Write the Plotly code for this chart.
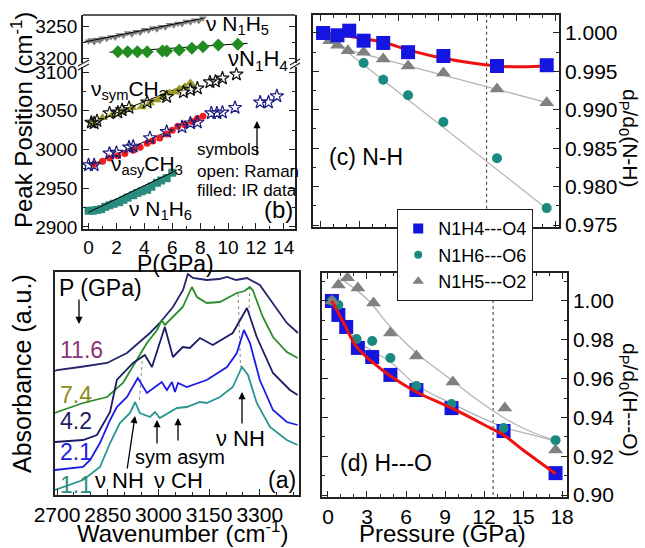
import plotly.graph_objects as go

W, H = 645, 548
FONT = "Arial, 'Liberation Sans', sans-serif"


def px(x):
    return x / W


def py(y):
    return 1 - y / H


# ---------------- Panel (b): peak positions vs pressure ----------------
b_n1h5_p = [0.0, 0.2, 0.4, 0.6, 0.8, 1.0, 1.3, 1.6, 1.9, 2.2, 2.5, 2.8, 3.1, 3.4, 3.7,
            4.0, 4.3, 4.6, 4.9, 5.2, 5.5, 5.8, 6.1, 6.4, 6.7, 7.0, 7.3, 7.6, 7.9, 8.2]
b_n1h5_v = [3226, 3228, 3225, 3229, 3227, 3231, 3230, 3233, 3232, 3236, 3235, 3239, 3237, 3241, 3240,
            3244, 3243, 3247, 3245, 3249, 3248, 3252, 3251, 3254, 3253, 3257, 3256, 3259, 3258, 3262]
b_n1h5_fit_p = [-0.3, 8.2]
b_n1h5_fit_v = [3225, 3262]

b_n1h4_p = [2.1, 2.8, 3.5, 4.2, 5.3, 5.6, 6.5, 7.4, 8.2, 9.3, 10.7]
b_n1h4_v = [3209.8, 3209.8, 3209.8, 3209.8, 3210.9, 3210.9, 3212.5, 3215.2, 3217.7, 3220.3, 3221.4]
b_n1h4_fit_p = [1.5, 11.4]
b_n1h4_fit_v = [3209, 3223]

b_sym_ir_p = [0.3, 1.0, 1.7, 2.4, 3.1, 3.8, 4.4, 4.9, 5.3, 5.8, 6.2, 6.5, 6.9, 7.3]
b_sym_ir_v = [3034, 3041, 3045, 3048, 3054, 3055, 3060, 3064, 3068, 3073, 3074, 3078, 3081, 3086]
b_sym_ram_p = [0.2, 0.4, 0.6, 1.5, 2.1, 2.4, 2.9, 4.2, 5.6, 6.8, 7.3, 7.8, 8.7, 9.1, 9.6, 10.6]
b_sym_ram_v = [3035, 3034, 3037, 3047, 3048, 3051, 3054, 3061, 3068, 3074, 3077, 3079, 3087, 3088, 3092, 3097]
b_sym_fit_p = [0.0, 7.5]
b_sym_fit_v = [3033, 3087]

b_asy_ir_p = [0.4, 1.0, 1.5, 2.1, 2.6, 3.2, 3.7, 4.2, 4.6, 5.1, 5.6, 6.0, 6.4, 6.9, 7.4, 7.8, 8.2]
b_asy_ir_v = [2981, 2985, 2989, 2992, 2995, 2999, 3003, 3008, 3011, 3015, 3020, 3025, 3030, 3032, 3036, 3040, 3043]
b_asy_ram_p = [0.0, 0.4, 1.5, 2.0, 2.9, 3.2, 4.4, 5.6, 6.7, 7.3, 7.8, 8.8, 9.2, 9.6, 10.5, 12.3, 12.9, 13.5]
b_asy_ram_v = [2980, 2980, 2995, 2996, 3003, 3004, 3015, 3023, 3029, 3034, 3035, 3047, 3047, 3048, 3054, 3061, 3061, 3069]
b_asy_fit_p = [0.2, 8.3]
b_asy_fit_v = [2980, 3044]

b_n1h6_p = [0.0, 0.3, 0.6, 0.9, 1.2, 1.5, 1.8, 2.2, 2.5, 2.8, 3.2, 3.5, 3.8, 4.2, 4.5, 4.9, 5.2, 5.6, 6.0]
b_n1h6_v = [2921, 2921, 2922, 2923, 2926, 2928, 2930, 2932, 2935, 2938, 2941, 2944, 2946, 2948, 2952, 2957, 2960, 2963, 2970]
b_n1h6_fit_p = [0.0, 6.3]
b_n1h6_fit_v = [2919, 2973]

# ---------------- Panel (c): N-H bond length ratio ----------------
c_n1h4_p = [0.2, 1.3, 2.2, 3.3, 4.8, 6.7, 9.4, 13.5, 17.3]
c_n1h4_v = [1.0000, 0.9997, 1.0003, 0.9990, 0.9987, 0.9975, 0.9970, 0.9957, 0.9958]
c_n1h6_p = [0.2, 3.3, 4.8, 6.7, 9.4, 13.5, 17.3]
c_n1h6_v = [1.0000, 0.9961, 0.9939, 0.9919, 0.9884, 0.9837, 0.9772]
c_n1h5_p = [0.2, 0.7, 1.3, 2.1, 3.3, 4.8, 6.7, 9.4, 13.5, 17.3]
c_n1h5_v = [1.0000, 0.9990, 0.9984, 0.9977, 0.9975, 0.9966, 0.9957, 0.9948, 0.9927, 0.9909]
c_red_fit_p = [0.2, 2.1, 4.8, 6.7, 9.4, 13.5, 15.5, 17.4]
c_red_fit_v = [1.0000, 0.9996, 0.9988, 0.9978, 0.9967, 0.9957, 0.9956, 0.9957]
c_n1h5_fit_p = [0.2, 2.1, 17.4]
c_n1h5_fit_v = [1.0000, 0.9978, 0.9909]
c_n1h6_fit_p = [0.2, 17.4]
c_n1h6_fit_v = [1.0000, 0.9770]

# ---------------- Panel (d): H---O distance ratio ----------------
d_n1h4_p = [0.3, 0.8, 1.4, 2.3, 3.4, 4.8, 6.8, 9.5, 13.5, 17.5]
d_n1h4_v = [1.000, 0.9928, 0.9866, 0.9758, 0.9711, 0.9619, 0.9541, 0.9448, 0.9330, 0.9113]
d_n1h6_p = [0.3, 0.8, 2.2, 3.4, 4.8, 6.8, 9.5, 13.5, 17.5]
d_n1h6_v = [1.000, 0.9979, 0.9804, 0.9794, 0.9706, 0.9562, 0.9469, 0.9345, 0.9283]
d_n1h5_p = [0.3, 0.8, 1.5, 2.3, 3.5, 4.8, 6.8, 9.6, 13.6, 17.5]
d_n1h5_v = [1.000, 1.0082, 1.0119, 1.0067, 0.9990, 0.9835, 0.9716, 0.9582, 0.9448, 0.9232]
d_red_fit_p = [0.3, 1.2, 2.2, 3.4, 4.8, 6.8, 9.6, 12.5, 13.5, 15.0, 17.5]
d_red_fit_v = [1.0, 0.9887, 0.9763, 0.9686, 0.9613, 0.9531, 0.9445, 0.9345, 0.9310, 0.9232, 0.9110]
d_n1h5_fit_p = [0.9, 3.0, 4.8, 6.8, 9.6, 11.5, 13.8, 15.5, 17.5]
d_n1h5_fit_v = [1.0119, 1.0010, 0.9866, 0.9732, 0.9588, 0.9490, 0.9387, 0.9330, 0.9280]
d_n1h6_fit_p = [0.3, 2.2, 4.8, 6.8, 9.6, 13.5, 15.5, 17.5]
d_n1h6_fit_v = [1.0, 0.9800, 0.9686, 0.9567, 0.9469, 0.9350, 0.9314, 0.9278]

transition_p = 12.7

# ---------------- Panel (a): IR spectra ----------------
w_116 = [2694, 2700, 2768, 2848, 2907, 2945, 2975, 3004, 3043, 3073, 3087, 3102, 3143, 3180, 3203,
         3230, 3262, 3300, 3339, 3380, 3413]
a_116 = [124, 125, 128, 132, 142, 153, 162, 172, 188, 205, 221, 217, 215, 216, 218, 215, 217, 210, 192, 172, 162]

w_74 = [2694, 2709, 2777, 2848, 2895, 2936, 2966, 2996, 3010, 3019, 3043, 3072, 3099, 3114, 3143, 3182,
        3232, 3255, 3270, 3279, 3309, 3339, 3380, 3412]
a_74 = [82, 84, 92, 98, 112, 135, 152, 165, 175, 170, 178, 188, 208, 198, 192, 193, 202, 204, 208, 205, 178,
        158, 143, 137]

w_42 = [2694, 2738, 2777, 2818, 2836, 2857, 2877, 2925, 2960, 2981, 3019, 3043, 3072, 3093, 3123, 3161,
        3220, 3262, 3291, 3339, 3389, 3412]
a_42 = [53, 54, 55, 60, 70, 83, 115, 132, 140, 128, 168, 138, 148, 147, 157, 150, 162, 187, 158, 122, 105, 100]

w_21 = [2694, 2777, 2798, 2827, 2857, 2877, 2907, 2939, 2966, 2999, 3010, 3025, 3040, 3049, 3058, 3084,
        3143, 3203, 3232, 3253, 3271, 3300, 3339, 3380, 3412]
a_21 = [25, 28, 35, 52, 75, 88, 98, 117, 102, 110, 113, 105, 113, 103, 112, 108, 115, 128, 142, 165, 152,
        115, 85, 73, 70]

w_11 = [2694, 2777, 2827, 2857, 2886, 2916, 2931, 2945, 2975, 2990, 3004, 3034, 3055, 3084, 3123, 3143,
        3182, 3220, 3247, 3265, 3291, 3330, 3380, 3412]
a_11 = [5, 15, 28, 52, 72, 82, 93, 82, 78, 83, 77, 83, 87, 88, 93, 92, 98, 108, 128, 120, 92, 68, 55, 50]

spectra = [
    ("11.6", w_116, a_116, "#23236e"),
    ("7.4", w_74, a_74, "#2b8c2b"),
    ("4.2", w_42, a_42, "#1c1c66"),
    ("2.1", w_21, a_21, "#1c1ce6"),
    ("1.1", w_11, a_11, "#2a9490"),
]
label_colors = {"11.6": "#8a3578", "7.4": "#8c8c1c", "4.2": "#1c1c66", "2.1": "#2020e0", "1.1": "#2a9080"}

guide_lines = [
    ([3236, 3243], [201, 128]),
    ([3270, 3268], [208, 182]),
    ([2953, 2944], [140, 95]),
]

# ---------------- Build figure ----------------
fig = go.Figure()

# legend-only entries (small markers like the reference)
fig.add_trace(go.Scatter(x=[None], y=[None], mode="markers", name="N1H4---O4",
                         marker=dict(symbol="square", color="#1515e0", size=10), xaxis="x3", yaxis="y3"))
fig.add_trace(go.Scatter(x=[None], y=[None], mode="markers", name="N1H6---O6",
                         marker=dict(symbol="circle", color="#1a8a80", size=8), xaxis="x3", yaxis="y3"))
fig.add_trace(go.Scatter(x=[None], y=[None], mode="markers", name="N1H5---O2",
                         marker=dict(symbol="triangle-up", color="#808080", size=10), xaxis="x3", yaxis="y3"))


def line(xs, ys, xa, ya, color="black", width=1, dash=None, shape="linear"):
    fig.add_trace(go.Scatter(x=xs, y=ys, mode="lines", showlegend=False, xaxis=xa, yaxis=ya,
                             line=dict(color=color, width=width, dash=dash, shape=shape), hoverinfo="skip"))


def pts(xs, ys, xa, ya, symbol, color, size, lw=0, lc=None):
    fig.add_trace(go.Scatter(x=xs, y=ys, mode="markers", showlegend=False, xaxis=xa, yaxis=ya,
                             marker=dict(symbol=symbol, color=color, size=size,
                                         line=dict(width=lw, color=lc if lc else color))))


# Panel b (upper part, y2)
pts(b_n1h5_p, b_n1h5_v, "x", "y2", "triangle-down", "#808080", 7)
line(b_n1h5_fit_p, b_n1h5_fit_v, "x", "y2")
line(b_n1h4_fit_p, b_n1h4_fit_v, "x", "y2")
pts(b_n1h4_p, b_n1h4_v, "x", "y2", "diamond", "#228b22", 10)
# Panel b (lower part, y)
line(b_sym_fit_p, b_sym_fit_v, "x", "y")
line(b_asy_fit_p, b_asy_fit_v, "x", "y")
line(b_n1h6_fit_p, b_n1h6_fit_v, "x", "y")
pts(b_sym_ir_p, b_sym_ir_v, "x", "y", "triangle-up", "#9a9a1e", 9)
pts(b_sym_ram_p, b_sym_ram_v, "x", "y", "star-open", "#111111", 10, 1.2, "#111111")
pts(b_asy_ir_p, b_asy_ir_v, "x", "y", "circle", "#ee2020", 7)
pts(b_asy_ram_p, b_asy_ram_v, "x", "y", "star-open", "#1a1a80", 10, 1.2, "#1a1a80")
pts(b_n1h6_p, b_n1h6_v, "x", "y", "square", "#2a8c7c", 8)
line(b_n1h6_fit_p, b_n1h6_fit_v, "x", "y")

# Panel c
line([transition_p, transition_p], [0.9740, 1.0030], "x3", "y3", "#555555", 1.2, "dot")
line(c_n1h5_fit_p, c_n1h5_fit_v, "x3", "y3", "#b4b4b4", 1.3)
line(c_n1h6_fit_p, c_n1h6_fit_v, "x3", "y3", "#b4b4b4", 1.3)
pts(c_n1h5_p, c_n1h5_v, "x3", "y3", "triangle-up", "#808080", 13)
pts(c_n1h6_p, c_n1h6_v, "x3", "y3", "circle", "#1a8a80", 10)
line(c_red_fit_p, c_red_fit_v, "x3", "y3", "#ee1111", 3, shape="spline")
pts(c_n1h4_p, c_n1h4_v, "x3", "y3", "square", "#1515e0", 14)

# Panel d
line([transition_p, transition_p], [0.897, 1.016], "x4", "y4", "#555555", 1.2, "dot")
line(d_n1h5_fit_p, d_n1h5_fit_v, "x4", "y4", "#b4b4b4", 1.3, shape="spline")
line(d_n1h6_fit_p, d_n1h6_fit_v, "x4", "y4", "#b4b4b4", 1.3, shape="spline")
pts(d_n1h4_p, d_n1h4_v, "x4", "y4", "square", "#1515e0", 14)
pts(d_n1h6_p, d_n1h6_v, "x4", "y4", "circle", "#1a8a80", 10)
pts(d_n1h5_p, d_n1h5_v, "x4", "y4", "triangle-up", "#808080", 13)
line(d_red_fit_p, d_red_fit_v, "x4", "y4", "#ee1111", 3, shape="spline")

# Panel a
for gw, ga in guide_lines:
    line(gw, ga, "x5", "y5", "#8a8a8a", 1, "dot")
for name, ws, aa, col in spectra:
    line(ws, aa, "x5", "y5", col, 1.8)

# ---------------- Axes ----------------
AX = dict(showline=True, linecolor="#222222", linewidth=1.5, ticks="inside", tickcolor="#222222",
          ticklen=6, tickwidth=1.3, showgrid=False, zeroline=False, automargin=False,
          tickfont=dict(family=FONT, size=21, color="black"))


def ax(**kw):
    d = dict(AX)
    d.update(kw)
    return d


MINOR = lambda dt: dict(dtick=dt, ticks="inside", ticklen=3, tickcolor="#222222", tickwidth=1.2)

layout_axes = dict(
    xaxis=ax(domain=[px(83), px(295)], anchor="y", range=[-0.4, 14.8], dtick=2, tick0=0,
             minor=MINOR(1), tickfont=dict(family=FONT, size=19, color="black")),
    yaxis=ax(domain=[py(229), py(67)], anchor="x", range=[2897.4, 3106.5], dtick=50, tick0=2900,
             mirror="ticks", minor=MINOR(25), tickfont=dict(family=FONT, size=19, color="black")),
    yaxis2=ax(domain=[py(63), py(15)], anchor="x", range=[3192.2, 3267.2], dtick=50, tick0=3200,
              mirror="ticks", minor=MINOR(25), tickfont=dict(family=FONT, size=19, color="black")),
    xaxis3=ax(domain=[px(313), px(559)], anchor="y3", range=[-0.57, 18.24], dtick=3, tick0=0,
              mirror="ticks", showticklabels=False, minor=MINOR(1)),
    yaxis3=ax(domain=[py(227), py(15)], anchor="x3", side="right", range=[0.97474, 1.00234],
              dtick=0.005, tick0=0.975, tickformat=".3f", mirror="ticks", minor=MINOR(0.0025)),
    xaxis4=ax(domain=[px(322), px(567)], anchor="y4", range=[-0.46, 18.38], dtick=3, tick0=0,
              mirror="ticks", minor=MINOR(1)),
    yaxis4=ax(domain=[py(497), py(273)], anchor="x4", side="right", range=[0.899, 1.0144],
              dtick=0.02, tick0=0.9, tickformat=".2f", mirror="ticks", minor=MINOR(0.01)),
    xaxis5=ax(domain=[px(55), px(299)], anchor="y5", range=[2694, 3416], dtick=150, tick0=2700,
              mirror=True, minor=MINOR(50)),
    yaxis5=ax(domain=[py(495), py(272)], anchor="x5", range=[0, 223], showticklabels=False,
              ticks="", mirror=True),
)

# ---------------- Annotations ----------------
ann = []


def txt(x, y, s, size=21, color="black", xanchor="left", yanchor="middle", angle=0):
    ann.append(dict(x=px(x), y=py(y), xref="paper", yref="paper", text=s, showarrow=False,
                    font=dict(family=FONT, size=size, color=color), xanchor=xanchor,
                    yanchor=yanchor, textangle=angle))


def arrow(x0, y0, x1, y1):
    ann.append(dict(x=px(x1), y=py(y1), xref="paper", yref="paper", ax=x0 - x1, ay=y0 - y1,
                    axref="pixel", ayref="pixel", text="", showarrow=True, arrowhead=2,
                    arrowsize=1.1, arrowwidth=1.3, arrowcolor="black"))


# panel b texts
txt(22, 120, "Peak Position (cm<sup>-1</sup>)", 24, xanchor="center", angle=-90)
txt(175, 264, "P(GPa)", 23, xanchor="center")
txt(204, 25, "ν N<sub>1</sub>H<sub>5</sub>", 21)
txt(226, 60, "νN<sub>1</sub>H<sub>4</sub>", 22)
txt(89, 90, "ν<sub>sym</sub>CH<sub>3</sub>", 21)
txt(109, 165, "ν<sub>asy</sub>CH<sub>3</sub>", 21)
txt(127, 210, "ν N<sub>1</sub>H<sub>6</sub>", 21)
txt(195, 150, "symbols", 17)
txt(195, 172, "open: Raman", 17)
txt(195, 190, "filled: IR data", 17)
txt(278, 210, "(b)", 24, xanchor="center")
arrow(257, 157, 257, 121)

# panel c/d texts
txt(327, 157, "(c) N-H", 23)
txt(338, 463, "(d) H---O", 23)
txt(629, 138, "d<sub>P</sub>/d<sub>0</sub>(N-H)", 21, xanchor="center", angle=90)
txt(629, 400, "d<sub>P</sub>/d<sub>0</sub>(H---O)", 21, xanchor="center", angle=90)
txt(442, 533, "Pressure (GPa)", 24, xanchor="center")

# panel a texts
txt(22, 374, "Absorbance (a.u.)", 25, xanchor="center", angle=-90)
txt(182, 532, "Wavenumber (cm<sup>-1</sup>)", 24, xanchor="center")
txt(57, 288, "P (GPa)", 23)
arrow(79, 298, 79, 324)
txt(58, 350, "11.6", 23, label_colors["11.6"])
txt(58, 395, "7.4", 23, label_colors["7.4"])
txt(58, 421, "4.2", 23, label_colors["4.2"])
txt(58, 452, "2.1", 23, label_colors["2.1"])
txt(58, 485, "1.1", 23, label_colors["1.1"])
txt(240, 438, "ν NH", 22, xanchor="center")
arrow(242, 425, 242, 392)
txt(180, 457, "sym asym", 20, xanchor="center")
arrow(157, 445, 157, 420)
arrow(178, 442, 178, 418)
txt(119, 480, "ν NH", 22, xanchor="center")
arrow(127, 470, 135, 416)
txt(178, 480, "ν CH", 22, xanchor="center")
txt(282, 480, "(a)", 23, xanchor="center")

# ---------------- Shapes: top border of panel b and axis break marks ----------------
shapes = [
    dict(type="line", xref="paper", yref="paper", x0=px(83), x1=px(295), y0=py(15), y1=py(15),
         line=dict(color="#222222", width=1.5)),
]
for (x0, y0, x1, y1) in [(78, 70, 89, 64), (78, 66, 89, 60), (290, 69, 300, 63), (290, 65, 300, 59)]:
    shapes.append(dict(type="line", xref="paper", yref="paper", x0=px(x0), y0=py(y0), x1=px(x1),
                       y1=py(y1), line=dict(color="#222222", width=1.3)))

fig.update_layout(
    width=W, height=H, autosize=False,
    margin=dict(l=0, r=0, t=0, b=0, pad=0),
    paper_bgcolor="white", plot_bgcolor="white",
    font=dict(family=FONT, size=18, color="black"),
    showlegend=True,
    legend=dict(x=px(397), y=py(209), xanchor="left", yanchor="top", bgcolor="white",
                bordercolor="#222222", borderwidth=1.2, font=dict(family=FONT, size=18, color="black"),
                tracegroupgap=0, itemwidth=30),
    annotations=ann, shapes=shapes,
    **layout_axes,
)

fig.write_html("out.html")
